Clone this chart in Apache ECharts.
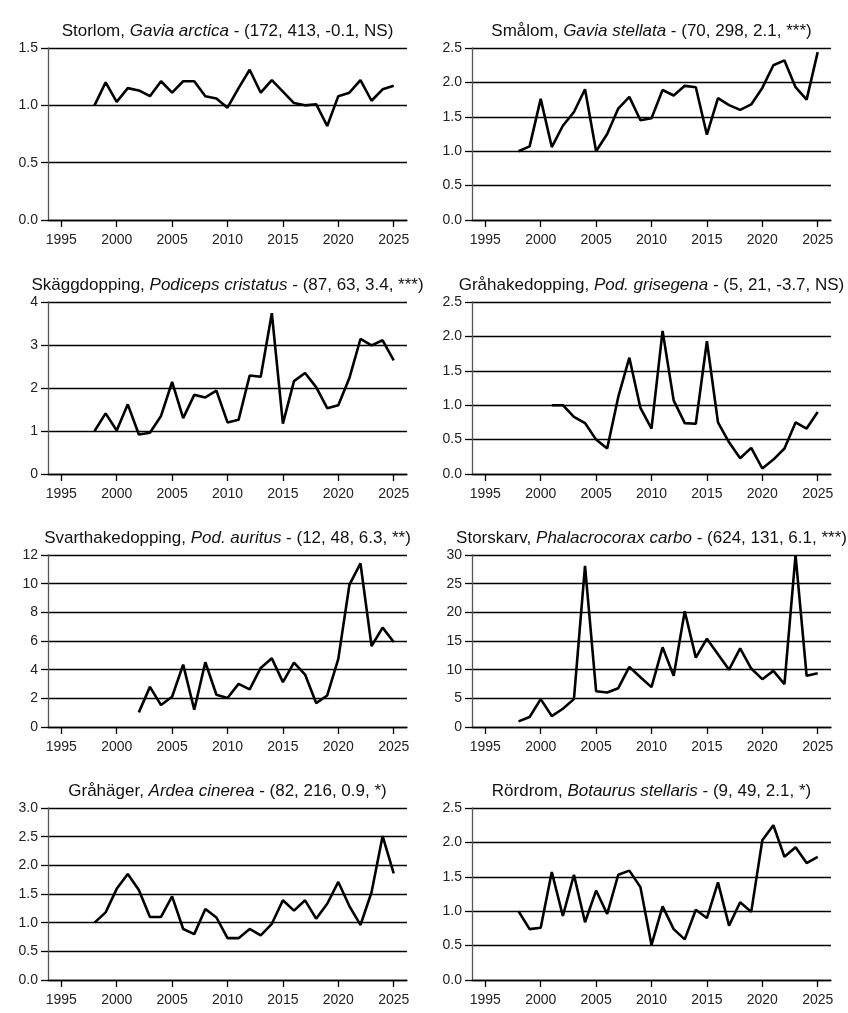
<!DOCTYPE html>
<html>
<head>
<meta charset="utf-8">
<script src="https://cdn.jsdelivr.net/npm/echarts@6/dist/echarts.min.js"></script>
<style>
  html, body { margin: 0; padding: 0; background: #fff; }
  #chart { width: 848px; height: 1013px; }
</style>
</head>
<body>
<div id="chart"></div>
<script>
// år
const years98 = [1998, 1999, 2000, 2001, 2002, 2003, 2004, 2005, 2006, 2007, 2008, 2009, 2010, 2011,
  2012, 2013, 2014, 2015, 2016, 2017, 2018, 2019, 2020, 2021, 2022, 2023, 2024, 2025]
const years01 = years98.slice(3)
const years02 = years98.slice(4)
const xTicks = [1995, 2000, 2005, 2010, 2015, 2020, 2025]

// index per art
const storlom = [1.0, 1.20, 1.03, 1.15, 1.13, 1.08, 1.21, 1.11, 1.21, 1.21, 1.08, 1.06, 0.98, 1.15,
  1.31, 1.11, 1.22, 1.12, 1.02, 1.0, 1.01, 0.82, 1.08, 1.11, 1.22, 1.04, 1.14, 1.17]
const smalom = [1.0, 1.07, 1.76, 1.06, 1.37, 1.57, 1.90, 1.0, 1.25, 1.62, 1.79, 1.45, 1.48, 1.89,
  1.81, 1.95, 1.93, 1.24, 1.77, 1.67, 1.60, 1.68, 1.92, 2.25, 2.32, 1.93, 1.75, 2.44]
const skaggdopping = [1.0, 1.41, 1.01, 1.62, 0.92, 0.96, 1.35, 2.14, 1.30, 1.84, 1.78, 1.94, 1.20, 1.26,
  2.29, 2.26, 3.74, 1.17, 2.16, 2.35, 2.02, 1.53, 1.60, 2.23, 3.14, 2.99, 3.11, 2.64]
const grahakedopping = [1.0, 1.0, 0.83, 0.74, 0.50, 0.37, 1.12, 1.69, 0.96, 0.66, 2.08,
  1.07, 0.74, 0.73, 1.93, 0.75, 0.46, 0.23, 0.38, 0.08, 0.21, 0.37, 0.75, 0.66, 0.90]
const svarthakedopping = [1.02, 2.80, 1.53, 2.11, 4.35, 1.20, 4.52, 2.25, 2.02, 3.01,
  2.62, 4.12, 4.79, 3.13, 4.49, 3.66, 1.67, 2.20, 4.75, 9.91, 11.42, 5.65, 6.93, 5.93]
const storskarv = [0.98, 1.74, 4.86, 1.91, 3.18, 4.86, 28.1, 6.25, 6.02, 6.77, 10.48, 8.69, 6.95, 13.9,
  8.92, 20.2, 12.1, 15.4, 12.7, 10.0, 13.7, 10.2, 8.34, 9.79, 7.47, 30.0, 8.92, 9.38]
const grahager = [1.0, 1.18, 1.59, 1.85, 1.57, 1.10, 1.10, 1.46, 0.89, 0.80, 1.24, 1.09, 0.73, 0.73,
  0.89, 0.78, 0.98, 1.39, 1.21, 1.39, 1.07, 1.33, 1.71, 1.29, 0.96, 1.53, 2.51, 1.86]
const rordrom = [1.0, 0.74, 0.76, 1.57, 0.93, 1.53, 0.84, 1.30, 0.96, 1.53, 1.59, 1.35, 0.51, 1.07,
  0.74, 0.59, 1.02, 0.90, 1.42, 0.79, 1.13, 0.99, 2.03, 2.25, 1.79, 1.93, 1.70, 1.79]

// rubriker: svenskt namn, latinskt namn, statistik
const panels = [
  { name: 'Storlom, ', latin: 'Gavia arctica', stat: ' - (172, 413, -0.1, NS)', x: years98, y: storlom, max: 1.5, step: 0.5 },
  { name: 'Smålom, ', latin: 'Gavia stellata', stat: ' - (70, 298, 2.1, ***)', x: years98, y: smalom, max: 2.5, step: 0.5 },
  { name: 'Skäggdopping, ', latin: 'Podiceps cristatus', stat: ' - (87, 63, 3.4, ***)', x: years98, y: skaggdopping, max: 4, step: 1 },
  { name: 'Gråhakedopping, ', latin: 'Pod. grisegena', stat: ' - (5, 21, -3.7, NS)', x: years01, y: grahakedopping, max: 2.5, step: 0.5 },
  { name: 'Svarthakedopping, ', latin: 'Pod. auritus', stat: ' - (12, 48, 6.3, **)', x: years02, y: svarthakedopping, max: 12, step: 2 },
  { name: 'Storskarv, ', latin: 'Phalacrocorax carbo', stat: ' - (624, 131, 6.1, ***)', x: years98, y: storskarv, max: 30, step: 5 },
  { name: 'Gråhäger, ', latin: 'Ardea cinerea', stat: ' - (82, 216, 0.9, *)', x: years98, y: grahager, max: 3.0, step: 0.5 },
  { name: 'Rördrom, ', latin: 'Botaurus stellaris', stat: ' - (9, 49, 2.1, *)', x: years98, y: rordrom, max: 2.5, step: 0.5 }
]

const font = '"Liberation Sans", Arial, sans-serif'
const lefts = [48, 472]
const tops = [48, 302, 555, 808]
const W = 359, H = 172

const grid = [], xAxis = [], yAxis = [], series = [], title = []

panels.forEach((p, i) => {
  const left = lefts[i % 2]
  const top = tops[Math.floor(i / 2)]
  grid.push({ left, top, width: W, height: H })
  title.push({
    text: `{n|${p.name}}{i|${p.latin}}{n|${p.stat}}`,
    left: left + W / 2,
    top: top - 27,
    textAlign: 'center',
    padding: 0,
    textStyle: {
      fontWeight: 'normal',
      rich: {
        n: { fontFamily: font, fontSize: 17, fontWeight: 'normal', color: '#111', lineHeight: 20 },
        i: { fontFamily: font, fontSize: 17, fontWeight: 'normal', color: '#111', fontStyle: 'italic', lineHeight: 20 }
      }
    }
  })
  xAxis.push({
    type: 'value',
    gridIndex: i,
    min: 1993.8,
    max: 2026.2,
    axisLine: { show: true, lineStyle: { color: '#000', width: 1.3 } },
    axisTick: { show: true, length: 7, customValues: xTicks, lineStyle: { color: '#000', width: 1.3 } },
    axisLabel: {
      customValues: xTicks,
      margin: 13,
      fontFamily: font,
      fontSize: 14,
      color: '#222',
      formatter: v => String(v)
    },
    splitLine: { show: false }
  })
  yAxis.push({
    type: 'value',
    gridIndex: i,
    min: 0,
    max: p.max,
    interval: p.step,
    axisLine: { show: true, lineStyle: { color: '#555', width: 1.3 } },
    axisTick: { show: true, length: 7, lineStyle: { color: '#000', width: 1.3 } },
    axisLabel: {
      margin: 10,
      fontFamily: font,
      fontSize: 14,
      color: '#222',
      formatter: v => p.step < 1 ? v.toFixed(1) : String(v)
    },
    splitLine: { show: true, lineStyle: { color: '#000', width: 1.3 } }
  })
  series.push({
    type: 'line',
    xAxisIndex: i,
    yAxisIndex: i,
    data: p.x.map((yr, k) => [yr, p.y[k]]),
    showSymbol: false,
    lineStyle: { color: '#000', width: 2.6 },
    animation: false
  })
})

const chart = echarts.init(document.getElementById('chart'), null, { renderer: 'canvas' })
chart.setOption({ animation: false, title, grid, xAxis, yAxis, series })
window.addEventListener('resize', () => chart.resize())
</script>
</body>
</html>
